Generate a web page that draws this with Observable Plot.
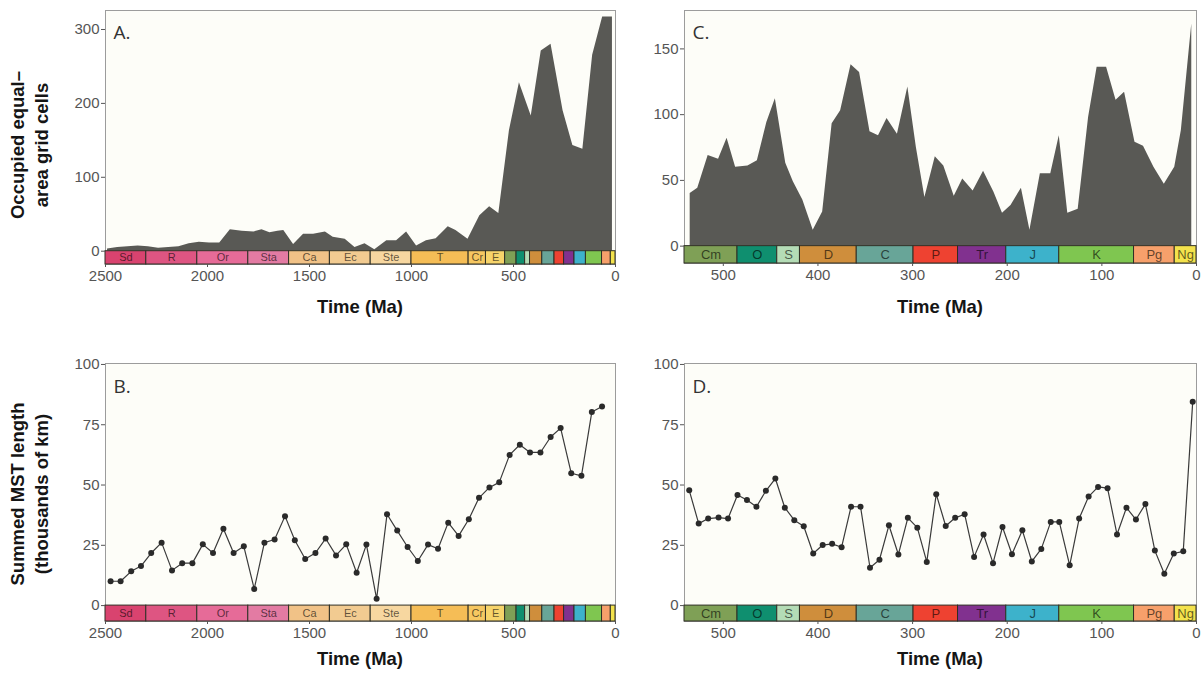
<!DOCTYPE html>
<html><head><meta charset="utf-8">
<script src="https://cdn.jsdelivr.net/npm/d3@7"></script>
<script src="https://cdn.jsdelivr.net/npm/@observablehq/plot@0.6"></script>
<style>
body{margin:0;background:#fff;}
#root{position:relative;width:1201px;height:674px;overflow:hidden;font-family:"Liberation Sans",Arial,sans-serif;background:#fff;}
.panel{position:absolute;}
.xt{position:absolute;transform:translate(-50%,-50%);font-weight:bold;font-size:18.5px;color:#151515;white-space:nowrap;}
.yt{position:absolute;transform:translate(-50%,-50%) rotate(-90deg);font-weight:bold;font-size:18.5px;line-height:24px;text-align:center;white-space:pre;color:#151515;}
</style></head><body><div id="root"></div>
<script>
// ---- Panel A: occupied equal-area grid cells, 2500-0 Ma ----
const ageA = [2490,2440,2390,2340,2290,2240,2190,2140,2090,2040,1990,1940,1888,1830,1772,1733,1694,1655,1626,1578,1529,1480,1422,1384,1325,1277,1228,1180,1121,1073,1024,975,927,879,820,782,723,665,617,572,520,471,413,364,316,257,209,160,112,63,15];
const valA = [3,5,6,7,6,4,5,6,10,12,11,11,29,27,26,29,25,27,28,9,23,23,26,19,16,5,10,2,14,14,26,7,14,17,33,28,16,48,60,51,163,228,183,271,280,190,143,138,265,317,317];

// ---- Panel B: summed MST length (thousands of km), 2500-0 Ma ----
const ageB = [2475,2426,2374,2326,2276,2225,2174,2124,2074,2023,1973,1922,1872,1822,1771,1721,1671,1620,1572,1521,1471,1421,1370,1320,1269,1221,1171,1120,1070,1019,969,919,870,820,769,719,669,618,570,519,469,419,368,318,269,217,167,116,66];
const valB = [10.1,10.1,14.2,16.4,21.8,26.1,14.6,17.6,17.6,25.4,21.8,31.9,21.8,24.6,6.9,26.1,27.4,37.1,27.1,19.3,21.8,27.8,20.8,25.4,13.6,25.3,2.8,37.9,31.1,24.3,18.5,25.3,23.6,34.4,28.9,35.8,44.7,49.0,51.1,62.5,66.7,63.5,63.5,69.9,73.6,54.9,53.8,80.3,82.6];

// ---- Panel C: occupied grid cells, Phanerozoic ----
const ageC = [535,527,516,505,496,487,474,464,454,445,434,426,416,405,395,385,376,365,356,345,336,327,316,305,296,287,276,267,256,247,236,225,214,205,196,185,176,165,154,145,136,125,114,105,95,85,76,65,56,45,34,23,16,5];
const valC = [40,44,69,66,82,60,61,65,94,112,63,49,35,12,26,93,103,138,132,87,84,97,85,121,75,37,68,61,38,51,42,57,41,25,31,44,12,55,55,84,25,28,98,136,136,111,117,79,76,60,47,60,88,169];

// ---- Panel D: summed MST length, Phanerozoic ----
const ageD = [536,526,516,505,495,485,475,465,455,445,435,425,415,405,395,385,375,365,355,345,335,325,315,305,295,285,275,265,255,245,235,225,215,205,195,184,174,164,154,145,134,124,114,104,94,84,74,64,54,44,34,24,14,4];
const valD = [47.8,34.0,36.1,36.5,36.1,45.9,43.8,41.0,47.6,52.7,40.6,35.4,32.9,21.6,25.1,25.6,24.2,41.0,41.0,15.7,19.0,33.3,21.2,36.4,32.3,18.1,46.2,33.0,36.4,37.9,20.2,29.5,17.6,32.6,21.3,31.2,18.3,23.5,34.7,34.7,16.7,36.1,45.2,49.2,48.7,29.5,40.6,35.7,42.1,22.8,13.2,21.6,22.5,84.5];

// ---- Geologic time scale ----
const periodStart = [2500,2300,2050,1800,1600,1400,1200,1000,720,635,541,485,443,419,359,299,252,201,145,66,23];
const periodEnd   = [2300,2050,1800,1600,1400,1200,1000,720,635,541,485,443,419,359,299,252,201,145,66,23,0];
const periodAbbr  = ["Sd","R","Or","Sta","Ca","Ec","Ste","T","Cr","E","Cm","O","S","D","C","P","Tr","J","K","Pg","Ng"];
const periodColor = ["#d9436f","#de5582","#e66b98","#e37ba3","#f1c287","#f2cb91","#f7d7a0","#f5bd56","#f6c761","#f6d46b","#7fa056","#0f8f6f","#b4dcb6","#cf8e3c","#68a598","#ee4231","#81318f","#3db2cb","#7fc650","#f7a06b","#f3e24c"];

const xTicksLong = [2500,2000,1500,1000,500,0];
const xTicksShort = [500,400,300,200,100,0];

const allPeriods = periodAbbr.map((a,i)=>({abbr:a,start:periodStart[i],end:periodEnd[i],color:periodColor[i]}));
const proterozoicLabels = new Set(["Sd","R","Or","Sta","Ca","Ec","Ste","T","Cr","E"]);

function rows(ages, vals){ return ages.map((a,i)=>({age:a,value:vals[i]})); }

function makePanel(cfg){
  const periods = allPeriods.filter(p => p.start <= cfg.xDomain[0] + 0.5);
  const labeled = periods.filter(p => cfg.longScale ? proterozoicLabels.has(p.abbr) : true);
  const ymin = cfg.yDomain[0];
  const marks = [Plot.frame({fill:"#fdfdf8", stroke:null})];
  if (cfg.kind === "area") {
    marks.push(Plot.areaY(cfg.data, {x:"age", y:"value", fill:"#595955", curve:"linear"}));
  } else {
    marks.push(Plot.lineY(cfg.data, {x:"age", y:"value", stroke:"#3a3a3a", strokeWidth:1.2}));
    marks.push(Plot.dot(cfg.data, {x:"age", y:"value", r:3, fill:"#2a2a2a", stroke:null}));
  }
  marks.push(Plot.frame({stroke:"#9c9c9c", fill:"none"}));
  marks.push(Plot.rect(periods, {x1:"start", x2:"end", y1:ymin, y2:0, fill:"color", stroke:"#2f2f25", strokeWidth:1}));
  marks.push(Plot.text(labeled, {x:d=>(d.start+d.end)/2, y:ymin/2, text:"abbr", fill:"#000", fillOpacity:0.62, fontSize:cfg.barFont, fontFamily:"Liberation Sans, Arial, sans-serif"}));
  marks.push(Plot.axisX({ticks:cfg.xTicks, tickFormat:"d", tickSize:3, tickPadding:3, color:"#555", fontSize:15, label:null}));
  marks.push(Plot.axisY({ticks:cfg.yTicks, tickFormat:"d", tickSize:4, tickPadding:2, color:"#555", fontSize:15, label:null}));
  marks.push(Plot.text([cfg.letter], {frameAnchor:"top-left", text:d=>d, dx:8, dy:cfg.letterDy, lineAnchor:"middle", fontSize:19, fill:"#333", fontFamily:"Open Sans, Noto Sans, sans-serif"}));
  const svg = Plot.plot({
    width: cfg.width, height: cfg.height,
    marginLeft: cfg.ml, marginRight: cfg.mr, marginTop: cfg.mt, marginBottom: cfg.mb,
    x: {domain: cfg.xDomain},
    y: {domain: cfg.yDomain},
    color: {type:"identity"},
    style: {background:"transparent", fontFamily:"Liberation Sans, Arial, sans-serif", fontSize:"15px", color:"#555", overflow:"visible"},
    marks
  });
  const wrap = document.createElement("div");
  wrap.className = "panel";
  wrap.style.left = cfg.left + "px"; wrap.style.top = cfg.top + "px";
  wrap.appendChild(svg);
  return wrap;
}

const root = document.getElementById("root");
root.appendChild(makePanel({letter:"A.", kind:"area", data:rows(ageA,valA), longScale:true, xDomain:[2500,0], yDomain:[-18,325.7], xTicks:xTicksLong, yTicks:[0,100,200,300], barFont:11, left:0, top:0, width:640, height:330, ml:105, mr:25, mt:10, mb:66, letterDy:22}));
root.appendChild(makePanel({letter:"C.", kind:"area", data:rows(ageC,valC), longScale:false, xDomain:[541,0], yDomain:[-13.2,179.2], xTicks:xTicksShort, yTicks:[0,50,100,150], barFont:13, left:640, top:0, width:561, height:330, ml:44, mr:5, mt:10, mb:67, letterDy:22}));
root.appendChild(makePanel({letter:"B.", kind:"line", data:rows(ageB,valB), longScale:true, xDomain:[2500,0], yDomain:[-6.6,100.4], xTicks:xTicksLong, yTicks:[0,25,50,75,100], barFont:11, left:0, top:340, width:640, height:334, ml:105, mr:25, mt:23, mb:53, letterDy:23}));
root.appendChild(makePanel({letter:"D.", kind:"line", data:rows(ageD,valD), longScale:false, xDomain:[541,0], yDomain:[-6.6,100.4], xTicks:xTicksShort, yTicks:[0,25,50,75,100], barFont:13, left:640, top:340, width:561, height:334, ml:44, mr:5, mt:23, mb:53, letterDy:23}));

function addDiv(cls, text, x, y){
  const d = document.createElement("div");
  d.className = cls; d.textContent = text;
  d.style.left = x + "px"; d.style.top = y + "px";
  root.appendChild(d);
}
addDiv("xt","Time (Ma)",360,307);
addDiv("xt","Time (Ma)",940,307);
addDiv("xt","Time (Ma)",360,659);
addDiv("xt","Time (Ma)",940,659);
addDiv("yt","Occupied equal\u2013\narea grid cells",30,145);
addDiv("yt","Summed MST length\n(thousands of km)",30,494);
</script></body></html>
